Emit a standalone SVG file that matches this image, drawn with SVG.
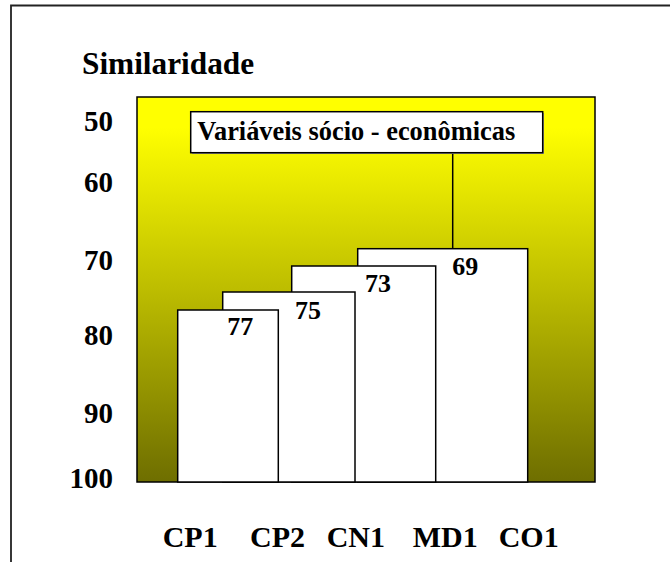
<svg xmlns="http://www.w3.org/2000/svg" width="670" height="562" viewBox="0 0 670 562">
<defs>
<linearGradient id="bg" x1="0" y1="0" x2="0" y2="1">
<stop offset="0" stop-color="#FFFF00"/>
<stop offset="0.08" stop-color="#FFFF00"/>
<stop offset="1" stop-color="#6E6E00"/>
</linearGradient>
</defs>
<style>
text{font-family:"Liberation Serif","Times New Roman",serif;font-weight:bold;fill:#000}
.ax{font-size:29px;text-anchor:end}
.lb{font-size:30px}
.num{font-size:26px}
.box{fill:#fff;stroke:#000;stroke-width:1.5}
</style>
<rect width="670" height="562" fill="#fff"/>
<path d="M11,562 V5.5 H670" fill="none" stroke="#222" stroke-width="1.8"/>
<text x="82" y="73.5" style="font-size:31.3px">Similaridade</text>
<g id="axis">
<text class="ax" x="113" y="131">50</text>
<text class="ax" x="113" y="192">60</text>
<text class="ax" x="113" y="270">70</text>
<text class="ax" x="113" y="345">80</text>
<text class="ax" x="113" y="423">90</text>
<text class="ax" x="113" y="488">100</text>
</g>
<rect id="plot" x="137" y="97" width="458" height="385" fill="url(#bg)" stroke="#000" stroke-width="1.5"/>
<g id="connectors">
<line x1="452.7" y1="153" x2="452.7" y2="248.7" stroke="#000" stroke-width="1.5"/>
</g>
<g id="title">
<rect x="192" y="113" width="352" height="41" fill="#999"/>
<rect class="box" x="190.7" y="111.7" width="352" height="41"/>
<text x="197.3" y="140" style="font-size:26.4px">Variáveis sócio - econômicas</text>
</g>
<g id="n69">
<rect class="box" x="357.7" y="248.7" width="170" height="233.3"/>
<text class="num" x="452.3" y="275">69</text>
</g>
<g id="n73">
<rect class="box" x="291.7" y="266" width="144" height="216"/>
<text class="num" x="365" y="292">73</text>
</g>
<g id="n75">
<rect class="box" x="222.7" y="292" width="132.3" height="190"/>
<text class="num" x="295" y="319.3">75</text>
</g>
<g id="n77">
<rect class="box" x="177.7" y="310" width="100.6" height="172"/>
<text class="num" x="227.3" y="335">77</text>
</g>
<g id="labels">
<text class="lb" x="162.7" y="546.5">CP1</text>
<text class="lb" x="250" y="546.5">CP2</text>
<text class="lb" x="326.7" y="546.5">CN1</text>
<text class="lb" x="412.7" y="546.5">MD1</text>
<text class="lb" x="498.7" y="546.5">CO1</text>
</g>
</svg>
